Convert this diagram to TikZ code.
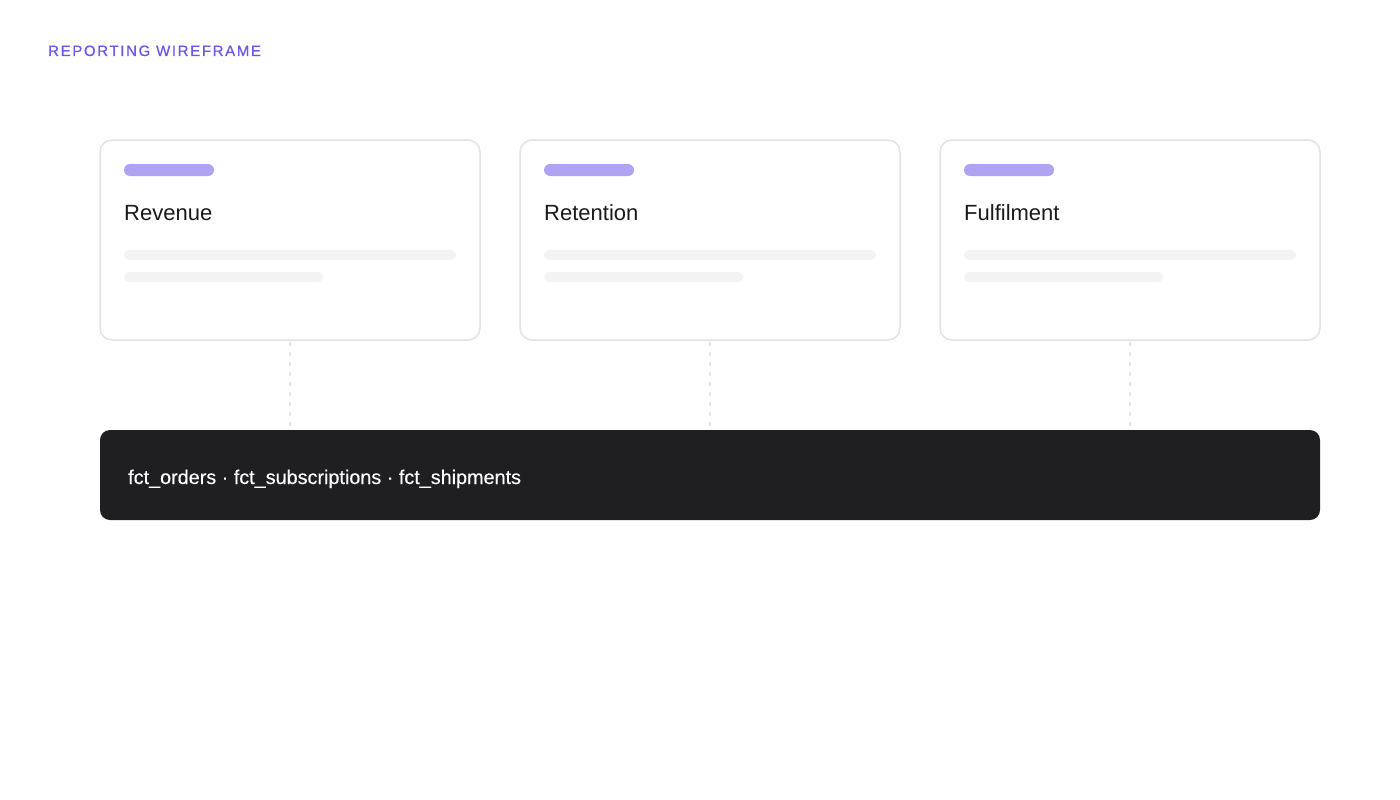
\documentclass[tikz,border=0pt]{standalone}
\usepackage{fontspec}
\setmainfont{Liberation Sans}
\newfontfamily\headfont[LetterSpace=11,FakeBold=0.6]{Liberation Sans}
\newfontfamily\boxfont[FakeBold=0.3]{Liberation Sans}
\usepackage{tikz}
\usetikzlibrary{positioning}
\definecolor{headviolet}{HTML}{6C56EC}
\definecolor{barviolet}{HTML}{B0A3F3}
\definecolor{cardline}{HTML}{E2E2E4}
\definecolor{skel}{HTML}{F3F3F4}
\definecolor{dashgray}{HTML}{E4E4E6}
\definecolor{darkbox}{HTML}{1F1F21}
\definecolor{titleink}{HTML}{1A1A1A}

\begin{document}
\begin{tikzpicture}[x=1pt,y=-1pt,
  card/.style={draw=cardline,line width=1.5pt,fill=white,rounded corners=12pt,minimum width=380pt,minimum height=200pt,inner sep=0pt},
  title/.style={anchor=base west,inner sep=0pt,text=titleink,font=\fontsize{22}{26}\selectfont},
  tag/.style={fill=barviolet,rounded corners=6pt},
  skeleton/.style={fill=skel,rounded corners=5pt},
  link/.style={draw=dashgray,line width=1.5pt,dash pattern=on 4pt off 6pt}]
\useasboundingbox (0,0) rectangle (1400,800);
\node[anchor=base west,inner sep=0pt,text=headviolet,font=\headfont\fontsize{15}{18}\selectfont] (head) at (48,56) {REPORTING WIREFRAME};
% cards
\node[card] (revenue) at (290,240) {};
\node[card] (retention) at (710,240) {};
\node[card] (fulfil) at (1130,240) {};
\fill[tag] (124,164) rectangle (214,176);
\fill[tag] (544,164) rectangle (634,176);
\fill[tag] (964,164) rectangle (1054,176);
\node[title] (revenuetitle) at (124,220) {Revenue};
\node[title] (retentiontitle) at (544,220) {Retention};
\node[title] (fulfiltitle) at (964,220) {Fulfilment};
\fill[skeleton] (124,250) rectangle (456,260);
\fill[skeleton] (124,272) rectangle (323,282);
\fill[skeleton] (544,250) rectangle (876,260);
\fill[skeleton] (544,272) rectangle (743,282);
\fill[skeleton] (964,250) rectangle (1296,260);
\fill[skeleton] (964,272) rectangle (1163,282);
% fact tables
\node[fill=darkbox,rounded corners=10pt,minimum width=1220pt,minimum height=90pt,inner sep=0pt] (facts) at (710,475) {};
\node[anchor=base west,inner sep=0pt,text=white,font=\boxfont\fontsize{19.8}{24}\selectfont] (factstext) at (128,484) {fct\_orders · fct\_subscriptions · fct\_shipments};
\draw[link] (revenue.south) ++(0,1) -- (revenue.south |- facts.north);
\draw[link] (retention.south) ++(0,1) -- (retention.south |- facts.north);
\draw[link] (fulfil.south) ++(0,1) -- (fulfil.south |- facts.north);
\end{tikzpicture}
\end{document}
